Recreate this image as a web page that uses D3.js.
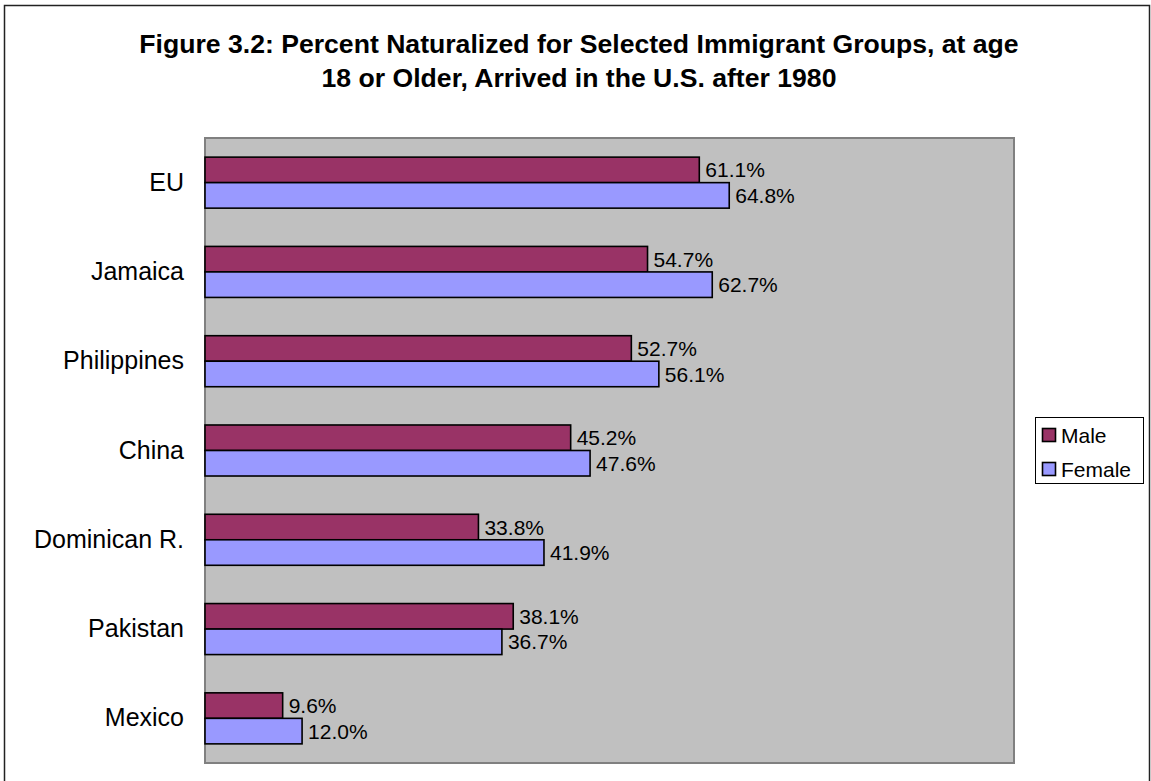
<!DOCTYPE html>
<html>
<head>
<meta charset="utf-8">
<script src="https://cdn.jsdelivr.net/npm/d3@7"></script>
<style>
  html, body { margin: 0; padding: 0; background: #fff; }
  svg { display: block; font-family: Arial, "Liberation Sans", sans-serif; }
</style>
</head>
<body>
<svg id="chart" width="1151" height="781"></svg>
<script>
// Groups, top to bottom
const categories = ["EU", "Jamaica", "Philippines", "China", "Dominican R.", "Pakistan", "Mexico"];
// Share naturalized (fraction)
const maleValues   = [0.611, 0.547, 0.527, 0.452, 0.338, 0.381, 0.096];
const femaleValues = [0.648, 0.627, 0.561, 0.476, 0.419, 0.367, 0.120];
const seriesNames = ["Male", "Female"];
const seriesColors = ["#993366", "#9999FF"];
const titleLines = [
  "Figure 3.2: Percent Naturalized for Selected Immigrant Groups, at age",
  "18 or Older, Arrived in the U.S. after 1980"
];

const svg = d3.select("#chart");

// Outer chart frame
svg.append("rect")
  .attr("x", 4.5).attr("y", 5.5)
  .attr("width", 1145).attr("height", 790)
  .attr("fill", "#fff").attr("stroke", "#222").attr("stroke-width", 1.5);

// Title
svg.append("g").selectAll("text").data(titleLines).join("text")
  .attr("x", 579).attr("y", (d, i) => 53 + i * 34)
  .attr("text-anchor", "middle")
  .attr("font-size", 26.6).attr("font-weight", "bold").attr("fill", "#000")
  .text(d => d);

// Plot area
const plot = { left: 205, top: 138, right: 1014, bottom: 763 };

svg.append("rect")
  .attr("x", plot.left).attr("y", plot.top)
  .attr("width", plot.right - plot.left).attr("height", plot.bottom - plot.top)
  .attr("fill", "#C0C0C0").attr("stroke", "#808080").attr("stroke-width", 2);

const x = d3.scaleLinear().domain([0, 1]).range([plot.left, plot.right]);
const y = d3.scaleBand().domain(categories).range([plot.top, plot.bottom])
  .paddingInner(0).paddingOuter(0);
// 150% gap between clusters
const sub = d3.scaleBand().domain(seriesNames)
  .range([0, y.bandwidth()]).paddingInner(0).paddingOuter(0.75);

const rows = categories.map((c, i) => ({
  cat: c,
  vals: [
    { s: seriesNames[0], v: maleValues[i], color: seriesColors[0] },
    { s: seriesNames[1], v: femaleValues[i], color: seriesColors[1] }
  ]
}));

const groups = svg.append("g").selectAll("g").data(rows).join("g")
  .attr("transform", d => `translate(0,${y(d.cat)})`);

groups.selectAll("rect").data(d => d.vals).join("rect")
  .attr("x", x(0))
  .attr("y", d => sub(d.s))
  .attr("width", d => x(d.v) - x(0))
  .attr("height", sub.bandwidth())
  .attr("fill", d => d.color)
  .attr("stroke", "#000").attr("stroke-width", 1.6);

groups.selectAll("text.val").data(d => d.vals).join("text")
  .attr("class", "val")
  .attr("x", d => x(d.v) + 6)
  .attr("y", d => sub(d.s) + sub.bandwidth() / 2)
  .attr("dy", "0.36em")
  .attr("font-size", 21).attr("fill", "#000")
  .text(d => d3.format(".1%")(d.v));

// Category axis labels
const yAxis = d3.axisLeft(y).tickSize(0).tickPadding(21);
const ya = svg.append("g").attr("transform", `translate(${plot.left},0)`).call(yAxis);
ya.select(".domain").remove();
ya.selectAll("text").attr("font-size", 25).attr("fill", "#000")
  .attr("font-family", "Arial, 'Liberation Sans', sans-serif");

// Legend
const lg = svg.append("g");
lg.append("rect")
  .attr("x", 1035.5).attr("y", 417.5).attr("width", 108).attr("height", 66)
  .attr("fill", "#fff").attr("stroke", "#000").attr("stroke-width", 1);
const items = lg.selectAll("g").data(seriesNames).join("g")
  .attr("transform", (d, i) => `translate(1042,${428 + i * 34})`);
items.append("rect")
  .attr("x", 0.5).attr("y", 0.5).attr("width", 13).attr("height", 13)
  .attr("fill", (d, i) => seriesColors[i]).attr("stroke", "#000").attr("stroke-width", 1.6);
items.append("text")
  .attr("x", 19).attr("y", 7).attr("dy", "0.36em")
  .attr("font-size", 21).attr("fill", "#000")
  .text(d => d);
</script>
</body>
</html>
